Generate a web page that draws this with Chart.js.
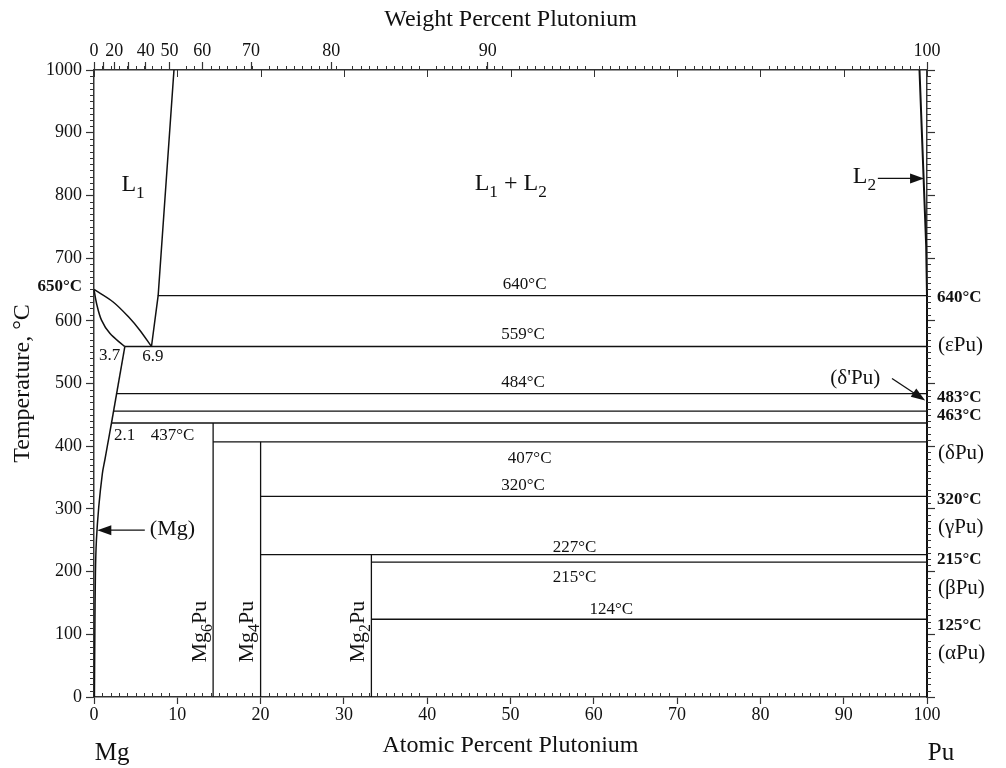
<!DOCTYPE html>
<html>
<head>
<meta charset="utf-8">
<title>Mg-Pu</title>
<script src="https://cdn.jsdelivr.net/npm/chart.js@4/dist/chart.umd.min.js"></script>
<style>
  body { margin: 0; background: #fff; }
  #wrap { width: 1006px; height: 768px; }
</style>
</head>
<body>
<div id="wrap"><canvas id="grafico" width="1006" height="768"></canvas></div>
<script>
const SERIF = "'Liberation Serif', 'Times New Roman', serif";

// phase boundaries [at% Pu, °C]
const liquidusMg = [[0, 650], [2.3, 630], [4.3, 604], [5.5, 585], [6.9, 559]];
const solidusMg = [[0, 650], [0.3, 628], [0.9, 601], [1.9, 580], [3.5, 561], [3.7, 559]];
const solvusUpper = [[3.7, 559], [2.1, 437]];
const solvusLower = [[2.1, 437], [1.6, 400], [1.3, 378], [1.0, 356], [0.57, 303], [0.29, 250], [0.17, 197], [0.1, 100], [0.05, 0]];
const boundaryL1 = [[6.9, 559], [7.7, 640], [9.6, 1000]];
const boundaryL2 = [[99.1, 1000], [99.9, 720], [100, 640], [100, 0]];

// horizontal invariant lines
const isoTemps = [640, 559, 484, 456, 437, 407, 320, 227, 215, 124];
const isoStart = [7.7, 3.7, 2.72, 2.35, 2.1, 14.3, 20, 20, 33.3, 33.3];
const isoEnd = [100, 100, 100, 100, 100, 100, 100, 100, 100, 100];

// compounds
const compoundNames = [['Mg', '6', 'Pu'], ['Mg', '4', 'Pu'], ['Mg', '2', 'Pu']];
const compoundX = [14.3, 20, 33.3];
const compoundTop = [437, 407, 227];

// top axis (weight percent)
const weightTicks = [0, 10, 20, 30, 40, 50, 60, 70, 80, 90, 100];
const weightLabels = ['0', '', '20', '', '40', '50', '60', '70', '80', '90', '100'];

// Pu-side labels
const rightLabelText = ['640°C', '(εPu)', '483°C', '463°C', '(δPu)', '320°C', '(γPu)', '215°C', '(βPu)', '125°C', '(αPu)'];
const rightLabelAt = [637, 561, 478, 449, 388, 315, 271, 219, 173, 114, 69];

// isotherm labels inside the diagram
const isoLabelText = ['640°C', '559°C', '484°C', '407°C', '320°C', '227°C', '215°C', '124°C'];
const isoLabelX = [51.7, 51.5, 51.5, 52.3, 51.5, 57.7, 57.7, 62.1];
const isoLabelY = [650, 571, 494, 374, 330, 232, 183, 133];

function wtToAt(w) {
    if (w >= 100) return 100;
    let a = w / 244.0, b = (100 - w) / 24.305;
    return 100 * a / (a + b);
}

function pts(arr) {
    return arr.map(p => ({ x: p[0], y: p[1] }));
}

let datasets = [];
function addLine(arr, curved, width) {
    datasets.push({
        data: pts(arr),
        showLine: true,
        borderColor: '#111',
        borderWidth: width || 1.5,
        pointRadius: 0,
        tension: curved ? 0.35 : 0,
        clip: 10
    });
}

addLine(liquidusMg, true);
addLine(solidusMg, true);
addLine(solvusUpper, false);
addLine(solvusLower, true);
addLine(boundaryL1, false);
addLine(boundaryL2, false, 2);
isoTemps.forEach((t, i) => addLine([[isoStart[i], t], [isoEnd[i], t]], false, 1.3));
compoundX.forEach((x, i) => addLine([[x, 0], [x, compoundTop[i]]], false, 1.3));

function drawRich(ctx, parts, x, y, size) {
    let cx = x;
    parts.forEach(p => {
        let sub = p[1];
        let s = sub ? size * 0.72 : size;
        ctx.font = s + 'px ' + SERIF;
        ctx.fillText(p[0], cx, y + (sub ? size * 0.28 : 0));
        cx += ctx.measureText(p[0]).width;
    });
}

function arrow(ctx, x1, y1, x2, y2) {
    let ang = Math.atan2(y2 - y1, x2 - x1);
    let len = 14, hw = 5;
    ctx.beginPath();
    ctx.moveTo(x1, y1);
    ctx.lineTo(x2 - Math.cos(ang) * len * 0.8, y2 - Math.sin(ang) * len * 0.8);
    ctx.lineWidth = 1.3;
    ctx.stroke();
    ctx.beginPath();
    ctx.moveTo(x2, y2);
    ctx.lineTo(x2 - Math.cos(ang) * len - Math.sin(ang) * hw, y2 - Math.sin(ang) * len + Math.cos(ang) * hw);
    ctx.lineTo(x2 - Math.cos(ang) * len + Math.sin(ang) * hw, y2 - Math.sin(ang) * len - Math.cos(ang) * hw);
    ctx.closePath();
    ctx.fill();
}

// minor ticks on all four sides
const marcoTicks = {
    id: 'marcoTicks',
    afterDraw(chart) {
        const { ctx, chartArea: a, scales } = chart;
        ctx.save();
        ctx.strokeStyle = '#333';
        ctx.lineWidth = 1;
        ctx.beginPath();
        for (let v = 0; v <= 100; v++) {
            let px = Math.round(scales.x.getPixelForValue(v)) + 0.5;
            if (v % 10) {
                ctx.moveTo(px, a.bottom); ctx.lineTo(px, a.bottom - 4);
                ctx.moveTo(px, a.top); ctx.lineTo(px, a.top - 4);
            } else {
                ctx.moveTo(px, a.top); ctx.lineTo(px, a.top + 7);
            }
        }
        for (let t = 10; t < 1000; t += 10) {
            if (t % 100 === 0) continue;
            let py = Math.round(scales.y.getPixelForValue(t)) + 0.5;
            ctx.moveTo(a.left, py); ctx.lineTo(a.left - 4, py);
            ctx.moveTo(a.right, py); ctx.lineTo(a.right + 4, py);
        }
        ctx.stroke();
        ctx.restore();
    }
};

// text labels and arrows
const etiquetas = {
    id: 'etiquetas',
    afterDraw(chart) {
        const { ctx, chartArea: a, scales } = chart;
        const X = v => scales.x.getPixelForValue(v);
        const Y = v => scales.y.getPixelForValue(v);
        ctx.save();
        ctx.fillStyle = '#111';
        ctx.strokeStyle = '#111';
        ctx.textBaseline = 'alphabetic';

        // phase fields
        ctx.textAlign = 'left';
        drawRich(ctx, [['L'], ['1', true]], X(3.29), Y(807), 24);
        drawRich(ctx, [['L'], ['1', true], [' + L'], ['2', true]], X(45.7), Y(808), 24);
        drawRich(ctx, [['L'], ['2', true]], X(91.1), Y(820), 24);
        arrow(ctx, X(94.1), Y(827), X(99.65), Y(827));

        drawRich(ctx, [['(Mg)']], X(6.7), Y(258), 22);
        arrow(ctx, X(6.1), Y(266), X(0.4), Y(266));

        drawRich(ctx, [["(δ'Pu)"]], X(88.4), Y(499), 21);
        arrow(ctx, X(95.8), Y(508), X(99.78), Y(473));

        // isotherm temperatures
        ctx.font = '17px ' + SERIF;
        ctx.textAlign = 'center';
        isoLabelText.forEach((t, i) => ctx.fillText(t, X(isoLabelX[i]), Y(isoLabelY[i])));
        ctx.textAlign = 'left';
        ctx.fillText('437°C', X(6.8), Y(410));
        ctx.fillText('3.7', X(0.6), Y(538));
        ctx.fillText('6.9', X(5.8), Y(536));
        ctx.fillText('2.1', X(2.4), Y(410));

        // compounds, vertical text
        compoundX.forEach((x, i) => {
            ctx.save();
            ctx.translate(X(x) - 7.5, Y(55));
            ctx.rotate(-Math.PI / 2);
            let n = compoundNames[i];
            drawRich(ctx, [[n[0]], [n[1], true], [n[2]]], 0, 0, 22);
            ctx.restore();
        });

        // Pu side
        ctx.textBaseline = 'middle';
        rightLabelText.forEach((t, i) => {
            let bold = t.indexOf('°C') > 0;
            ctx.font = (bold ? 'bold 17px ' : '21px ') + SERIF;
            ctx.fillText(t, a.right + (bold ? 10 : 11), Y(rightLabelAt[i]));
        });

        // Mg side
        ctx.textAlign = 'right';
        ctx.font = 'bold 17px ' + SERIF;
        ctx.fillText('650°C', a.left - 12, Y(654));

        // element names
        ctx.textAlign = 'left';
        ctx.textBaseline = 'alphabetic';
        ctx.font = '25px ' + SERIF;
        ctx.fillText('Mg', X(0.1), 760);
        ctx.fillText('Pu', X(100.1), 760);
        ctx.restore();
    }
};

const ejeBase = {
    grid: { display: true, drawOnChartArea: false, drawTicks: true, tickLength: 8, color: '#333', tickColor: '#333', tickWidth: 1.2 },
    border: { display: true, color: '#333', width: 1.5 }
};

Chart.defaults.font.family = SERIF;
Chart.defaults.color = '#111';

new Chart(document.getElementById('grafico'), {
    type: 'scatter',
    data: { datasets: datasets },
    options: {
        responsive: false,
        animation: false,
        devicePixelRatio: 1,
        layout: { padding: 0 },
        plugins: { legend: { display: false }, tooltip: { enabled: false } },
        scales: {
            x: {
                ...ejeBase,
                type: 'linear', position: 'bottom', min: 0, max: 100,
                grid: { ...ejeBase.grid, tickLength: 7 },
                ticks: { stepSize: 10, padding: 0, font: { size: 18 }, maxRotation: 0, color: '#111', callback: v => String(v) },
                title: { display: true, text: 'Atomic Percent Plutonium', font: { size: 24 }, padding: { top: 0, bottom: 8 }, color: '#111' },
                afterFit: s => { s.height = 71; }
            },
            x2: {
                ...ejeBase,
                type: 'linear', position: 'top', min: 0, max: 100,
                afterBuildTicks: s => { s.ticks = weightTicks.map(w => ({ value: wtToAt(w) })); },
                ticks: { autoSkip: false, padding: 0, font: { size: 18 }, maxRotation: 0, minRotation: 0, color: '#111',
                    callback: (v, i) => weightLabels[i] },
                title: { display: true, text: 'Weight Percent Plutonium', font: { size: 24 }, padding: { top: 5, bottom: 0 }, color: '#111' },
                afterFit: s => { s.height = 70; }
            },
            y: {
                ...ejeBase,
                type: 'linear', position: 'left', min: 0, max: 1000,
                ticks: { stepSize: 100, padding: 4, font: { size: 18 }, color: '#111', callback: v => String(v) },
                title: { display: true, text: 'Temperature, °C', font: { size: 24 }, padding: { top: 8, bottom: 0 }, color: '#111' },
                afterFit: s => { s.width = 94; }
            },
            y2: {
                ...ejeBase,
                type: 'linear', position: 'right', min: 0, max: 1000,
                ticks: { stepSize: 100, display: false },
                afterFit: s => { s.width = 79; }
            }
        }
    },
    plugins: [marcoTicks, etiquetas]
});
</script>
</body>
</html>
